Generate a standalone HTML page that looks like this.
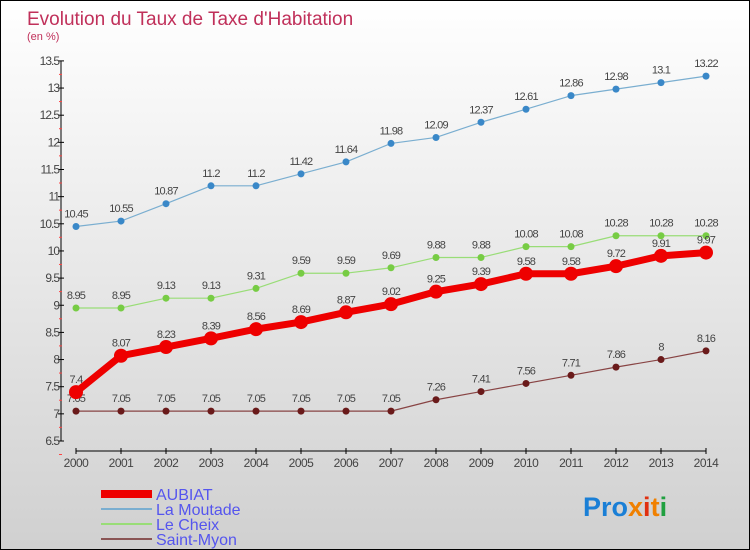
<!DOCTYPE html>
<html><head><meta charset="utf-8"><style>
body{margin:0}
#c{width:748px;height:548px;border:1px solid #000;background:linear-gradient(#fff,#d0d0d0);position:relative;font-family:"Liberation Sans",sans-serif;overflow:hidden}
</style></head><body>
<div id="c">
<svg id="s" width="748" height="548">
<text x="26" y="24" font-size="19" fill="#c0305a">Evolution du Taux de Taxe d'Habitation</text>
<text x="26" y="39" font-size="11" fill="#c0305a">(en %)</text>
<g id="ax"></g><g id="ser"></g>
<g>
<rect x="100" y="489" width="51" height="8" fill="#e00"/>
<text x="155" y="499" font-size="16" fill="#5555ee">AUBIAT</text>
<rect x="100" y="507" width="51" height="2" fill="#7aaed0"/>
<text x="155" y="514" font-size="16" fill="#5555ee">La Moutade</text>
<rect x="100" y="522" width="51" height="2" fill="#99dd77"/>
<text x="155" y="529" font-size="16" fill="#5555ee">Le Cheix</text>
<rect x="100" y="537" width="51" height="2" fill="#8a5555"/>
<text x="155" y="544" font-size="16" fill="#5555ee">Saint-Myon</text>
</g>
<text x="582" y="515" font-size="27" font-weight="bold" fill="#1a7fd6">Pro<tspan fill="#f08000">x</tspan><tspan fill="#e03010">i</tspan><tspan fill="#f08000">t</tspan><tspan fill="#20a040">i</tspan></text>
</svg></div>
<script>
const years=[2000,2001,2002,2003,2004,2005,2006,2007,2008,2009,2010,2011,2012,2013,2014];
const yTicks=[6.5,7,7.5,8,8.5,9,9.5,10,10.5,11,11.5,12,12.5,13,13.5];
const aubiat=[7.4,8.07,8.23,8.39,8.56,8.69,8.87,9.02,9.25,9.39,9.58,9.58,9.72,9.91,9.97];
const moutade=[10.45,10.55,10.87,11.2,11.2,11.42,11.64,11.98,12.09,12.37,12.61,12.86,12.98,13.1,13.22];
const cheix=[8.95,8.95,9.13,9.13,9.31,9.59,9.59,9.69,9.88,9.88,10.08,10.08,10.28,10.28,10.28];
const myon=[7.05,7.05,7.05,7.05,7.05,7.05,7.05,7.05,7.26,7.41,7.56,7.71,7.86,8,8.16];
const NS="http://www.w3.org/2000/svg";
const X=y=>75+(y-2000)*45, Y=v=>440-(v-6.5)*54.3;
function mk(t,a,p){const e=document.createElementNS(NS,t);for(const k in a)e.setAttribute(k,a[k]);p.appendChild(e);return e;}
const ax=document.getElementById('ax'),ser=document.getElementById('ser');
let l=mk('line',{x1:60,y1:Y(13.5),x2:60,y2:Y(6.5),stroke:'#000'},ax);


l=mk('line',{x1:X(2000),y1:450,x2:X(2014),y2:450,stroke:'#000'},ax);


yTicks.forEach(v=>{mk('line',{x1:57,x2:63,y1:Y(v),y2:Y(v),stroke:'#000'},ax);
 mk('line',{x1:58,x2:61,y1:Y(v)+13.5,y2:Y(v)+13.5,stroke:'#f44'},ax);
 const t=mk('text',{x:58,y:Y(v)+4,'font-size':12,fill:'#444','text-anchor':'end','letter-spacing':'-1'},ax);t.textContent=v;
 
 });
years.forEach(y=>{mk('line',{x1:X(y),x2:X(y),y1:447,y2:453,stroke:'#000'},ax);
 const t=mk('text',{x:X(y),y:466,'font-size':12,fill:'#444','text-anchor':'middle','letter-spacing':'-0.5'},ax);t.textContent=y;
 
 });
function series(d,name,col,dot,w,r){
 const g=mk('g',{},ser);
 
 
 mk('polyline',{points:d.map((v,i)=>X(years[i])+','+Y(v)).join(' '),fill:'none',stroke:col,'stroke-width':w,'stroke-linejoin':'round'},g);
 d.forEach((v,i)=>{const c=mk('circle',{cx:X(years[i]),cy:Y(v),r:r,fill:dot},g);
  
  
  const t=mk('text',{x:X(years[i]),y:Y(v)-9,'font-size':11,fill:'#444','text-anchor':'middle','letter-spacing':'-0.8'},g);t.textContent=v;
  
  });
}
series(myon,'saint-myon','#884444','#6a1a1a',1.2,3.5);
series(cheix,'le-cheix','#99dd77','#77cc44',1.2,3.5);
series(moutade,'la-moutade','#7aaed0','#3a88c8',1.2,3.5);
series(aubiat,'aubiat','#ee0000','#ee0000',7,7);
</script>
</body></html>
